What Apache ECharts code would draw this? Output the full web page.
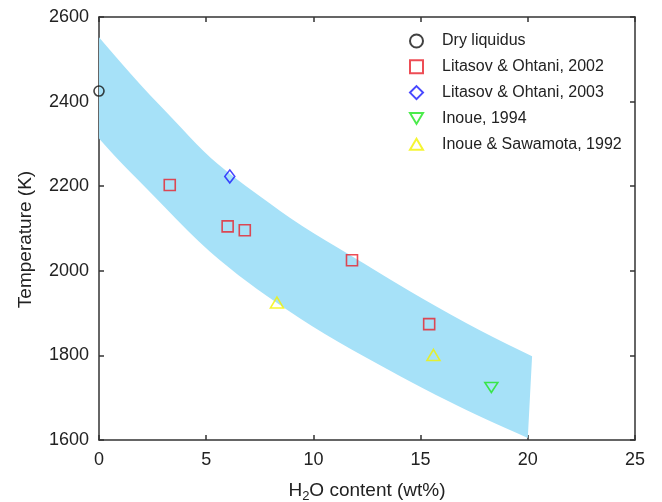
<!DOCTYPE html>
<html>
<head>
<meta charset="utf-8">
<script src="https://cdn.jsdelivr.net/npm/echarts@6/dist/echarts.min.js"></script>
<style>
  html, body { margin: 0; padding: 0; background: #fff; }
  #chart { width: 662px; height: 502px; }
</style>
</head>
<body>
<div id="chart"></div>
<script>
// band edges: [H2O wt%, T (K)]
const bandUpper = [[0, 2552], [1.7, 2451], [3.5, 2356], [4.9, 2280], [6.1, 2228], [7.5, 2176], [9.4, 2107], [11.7, 2038], [13.1, 1994], [15, 1936], [17.8, 1857], [20.2, 1798]];
const bandLower = [[0, 2313], [0.9, 2262], [2.5, 2180], [4.7, 2065], [6.5, 1988], [8.3, 1923], [10.5, 1850], [13.1, 1777], [15, 1725], [17.8, 1653], [20, 1605]];

const dryLiquidus = [[0, 2425]];
const litasov2002 = [[3.3, 2203], [6.0, 2105], [6.8, 2096], [11.8, 2025], [15.4, 1874]];
const litasov2003 = [[6.1, 2223]];
const inoue1994 = [[18.3, 1724]];
const inoueSawamota1992 = [[8.3, 1925], [15.6, 1801]];

const xTicks = [0, 5, 10, 15, 20, 25];
const yTicks = [1600, 1800, 2000, 2200, 2400, 2600];

const FONT = '"Liberation Sans", Arial, sans-serif';
const AXIS_COLOR = '#333';
const TEXT_COLOR = '#222';

const chart = echarts.init(document.getElementById('chart'));

const axisLine = { show: true, onZero: false, lineStyle: { color: AXIS_COLOR, width: 1.5 } };
const axisTick = { show: true, inside: true, length: 5, lineStyle: { color: AXIS_COLOR, width: 1.5 } };

const hollow = (name, data, symbol, size, color, extra) => ({
  name,
  type: 'scatter',
  data,
  symbol,
  symbolSize: size,
  clip: false,
  z: 5,
  itemStyle: { color: 'rgba(0,0,0,0)', borderColor: color, borderWidth: 1.6 },
  ...(extra || {})
});

// smooth edge through pixel points (quadratic curves via midpoints), first move is 'M' or 'L'
function edgePath(pts, first) {
  const mid = (a, b) => [(a[0] + b[0]) / 2, (a[1] + b[1]) / 2];
  let d = first + pts[0][0] + ',' + pts[0][1];
  for (let i = 1; i < pts.length - 1; i++) {
    const m = mid(pts[i], pts[i + 1]);
    d += ' Q' + pts[i][0] + ',' + pts[i][1] + ' ' + m[0] + ',' + m[1];
  }
  const last = pts[pts.length - 1];
  return d + ' L' + last[0] + ',' + last[1];
}

chart.setOption({
  backgroundColor: '#fff',
  animation: false,
  textStyle: { fontFamily: FONT },
  grid: { left: 99, right: 27, top: 17, bottom: 62, containLabel: false, outerBoundsMode: 'none' },
  legend: {
    orient: 'vertical',
    left: 404,
    top: 28,
    itemWidth: 13,
    itemHeight: 13,
    itemGap: 9.8,
    selectedMode: false,
    textStyle: { fontFamily: FONT, fontSize: 16, color: TEXT_COLOR, padding: [0, 0, 0, 14] },
    data: [
      'Dry liquidus',
      'Litasov & Ohtani, 2002',
      'Litasov & Ohtani, 2003',
      { name: 'Inoue, 1994', icon: 'path://M0,0 L13,0 L6.5,11 Z' },
      { name: 'Inoue & Sawamota, 1992', icon: 'path://M6.5,0 L13,11 L0,11 Z' }
    ]
  },
  xAxis: [
    {
      type: 'value',
      min: xTicks[0],
      max: xTicks[xTicks.length - 1],
      interval: 5,
      position: 'bottom',
      name: 'H{sub|2}O content (wt%)',
      nameLocation: 'middle',
      nameGap: 38,
      nameTextStyle: {
        fontFamily: FONT, fontSize: 19, color: TEXT_COLOR,
        rich: { sub: { fontFamily: FONT, fontSize: 13, color: TEXT_COLOR, padding: [12, 0, 0, 0] } }
      },
      axisLine, axisTick,
      axisLabel: { margin: 11, fontSize: 18, color: TEXT_COLOR, fontFamily: FONT },
      splitLine: { show: false }
    },
    {
      type: 'value',
      min: xTicks[0],
      max: xTicks[xTicks.length - 1],
      interval: 5,
      position: 'top',
      axisLine, axisTick,
      axisLabel: { show: false },
      splitLine: { show: false }
    }
  ],
  yAxis: [
    {
      type: 'value',
      min: yTicks[0],
      max: yTicks[yTicks.length - 1],
      interval: 200,
      position: 'left',
      name: 'Temperature (K)',
      nameLocation: 'middle',
      nameGap: 64,
      nameTextStyle: { fontFamily: FONT, fontSize: 19, color: TEXT_COLOR, padding: [0, 22, 0, 0] },
      axisLine, axisTick,
      axisLabel: { margin: 10, fontSize: 18, color: TEXT_COLOR, fontFamily: FONT, formatter: v => String(v) },
      splitLine: { show: false }
    },
    {
      type: 'value',
      min: yTicks[0],
      max: yTicks[yTicks.length - 1],
      interval: 200,
      position: 'right',
      axisLine, axisTick,
      axisLabel: { show: false },
      splitLine: { show: false }
    }
  ],
  series: [
    {
      name: 'band',
      type: 'custom',
      z: 1,
      silent: true,
      data: [0],
      renderItem: (params, api) => {
        const up = bandUpper.map(p => api.coord(p));
        const low = bandLower.slice().reverse().map(p => api.coord(p));
        const d = edgePath(up, 'M') + ' ' + edgePath(low, 'L') + ' Z';
        return {
          type: 'path',
          shape: { pathData: d },
          style: { fill: '#a6e1f8', stroke: 'none' }
        };
      }
    },
    hollow('Dry liquidus', dryLiquidus, 'circle', 10, '#111'),
    hollow('Litasov & Ohtani, 2002', litasov2002, 'rect', 11, '#e8212b'),
    hollow('Litasov & Ohtani, 2003', litasov2003, 'diamond', [10, 13], '#1a1aff'),
    hollow('Inoue, 1994', inoue1994, 'triangle', [13, 10], '#1ee61e', { symbolRotate: 180 }),
    hollow('Inoue & Sawamota, 1992', inoueSawamota1992, 'triangle', [13, 11], '#f2f200')
  ]
});
</script>
</body>
</html>
